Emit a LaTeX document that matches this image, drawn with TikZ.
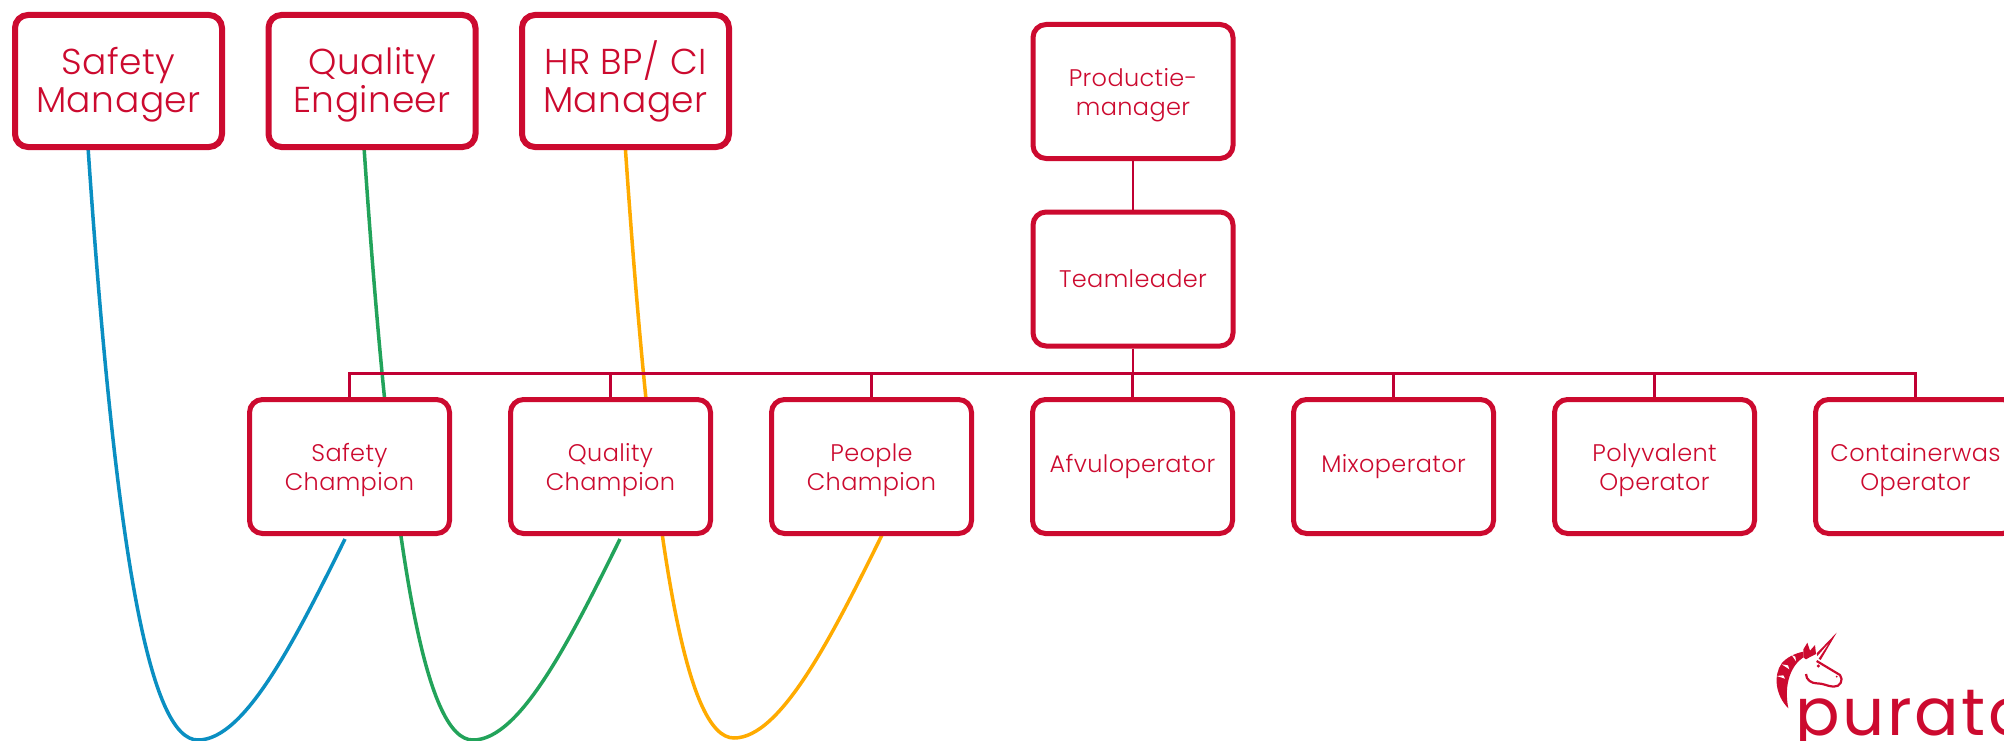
\documentclass[tikz,border=0pt]{standalone}
\usepackage{fontspec}
\setmainfont{Poppins}[UprightFont=* Light,LetterSpace=1.5]
\newfontfamily\logofont{Poppins}[LetterSpace=4]
\definecolor{pur}{HTML}{CC0A2F}
\definecolor{linkred}{HTML}{C00033}
\definecolor{cblue}{HTML}{0A8FC2}
\definecolor{cgreen}{HTML}{22A35A}
\definecolor{corange}{HTML}{FFAB00}
\newcommand\dnb{\rule{0pt}{35pt}}
\newcommand\dnm{\rule{0pt}{26pt}}
\tikzset{
  base/.style={draw=pur,fill=white,rounded corners=13,align=center,text=pur,inner sep=0pt},
  bigbox/.style={base,line width=6,minimum width=207,minimum height=132,font=\fontsize{36}{38}\selectfont},
  midbox/.style={base,line width=5,minimum width=200,minimum height=134,font=\fontsize{24}{29}\selectfont},
  link/.style={draw=linkred,line width=2.5},
  curve/.style={line width=3.5},
}
\begin{document}
\begin{tikzpicture}[x=1pt,y=-1pt]
\useasboundingbox (0,0) rectangle (2004,741);
% coloured curves, behind the boxes
\coordinate (b0) at (88,147);  \coordinate (b1) at (198,740); \coordinate (b2) at (345,539);
\coordinate (g0) at (364,147); \coordinate (g1) at (473,740); \coordinate (g2) at (620,539);
\coordinate (o0) at (625,143); \coordinate (o1) at (734,738); \coordinate (o2) at (882,535);
\draw[curve,cblue] (b0) .. controls +(28,412) and +(-48,0) .. (b1) .. controls +(47,0) and +(-50,101) .. (b2);
\draw[curve,cgreen] (g0) .. controls +(28,412) and +(-48,0) .. (g1) .. controls +(47,0) and +(-50,101) .. (g2);
\draw[curve,corange] (o0) .. controls +(28,412) and +(-48,0) .. (o1) .. controls +(47,0) and +(-50,101) .. (o2);
% boxes
\node[bigbox] (sm) at (118.5,81) {\dnb Safety\\Manager};
\node[bigbox] (qe) at (372,81) {\dnb Quality\\Engineer};
\node[bigbox] (hr) at (625.5,81) {\dnb HR BP/ CI\\Manager};
\node[midbox] (pm) at (1133,91.5) {\dnm Productie-\\manager};
\node[midbox] (tl) at (1133,279) {Teamleader};
\node[midbox] (sc) at (349.5,466.5) {\dnm Safety\\Champion};
\node[midbox] (qc) at (610.5,466.5) {\dnm Quality\\Champion};
\node[midbox] (pc) at (871.5,466.5) {\dnm People\\Champion};
\node[midbox] (af) at (1132.5,466.5) {Afvuloperator};
\node[midbox] (mx) at (1393.5,466.5) {Mixoperator};
\node[midbox] (po) at (1654.5,466.5) {\dnm Polyvalent\\Operator};
\node[midbox] (co) at (1915.5,466.5) {\dnm Containerwas\\Operator};
% org links
\coordinate (bus) at (1133,373.5);
\draw[link] (pm.south) -- (tl.north);
\draw[link] (tl.south) -- (bus);
\foreach \n in {sc,qc,pc,af,mx,po,co}{\draw[link] (\n.north) |- (bus);}
% logo
\begin{scope}[shift={(1720,600)},x=0.3333pt,y=-0.3333pt]
\fill[pur] (205,325) .. controls (165,285) and (160,225) .. (185,190)
  .. controls (200,172) and (225,160) .. (250,155)
  -- (250,172) .. controls (215,195) and (190,250) .. (205,325) -- cycle;
\fill[white] (170,228) -- (195,236) -- (190,226) -- cycle
  (185,193) -- (208,208) -- (204,196) -- cycle
  (215,165) -- (228,184) -- (226,170) -- cycle;
\fill[pur] (250,172) -- (250,148) -- (262,128) -- (270,152) -- (285,135) -- (288,162) -- (272,170) -- (258,178) -- cycle;
\fill[pur] (290,160) -- (350,98) -- (302,180) -- (296,176) -- (330,125) -- (292,168) -- cycle;
\draw[pur,line width=2.2,line join=round] (290,183) -- (360,225) .. controls (372,240) and (360,262) .. (340,260)
  .. controls (320,258) and (310,250) .. (290,250) .. controls (275,250) and (258,240) .. (258,222);
\fill[pur] (295,198) circle (5);
\fill[pur] (350,230) circle (3);
\end{scope}
\node[anchor=base west,inner sep=0pt,text=pur,font=\logofont\fontsize{66}{66}\selectfont] (logo) at (1795,735) {purato};
\end{tikzpicture}
\end{document}
